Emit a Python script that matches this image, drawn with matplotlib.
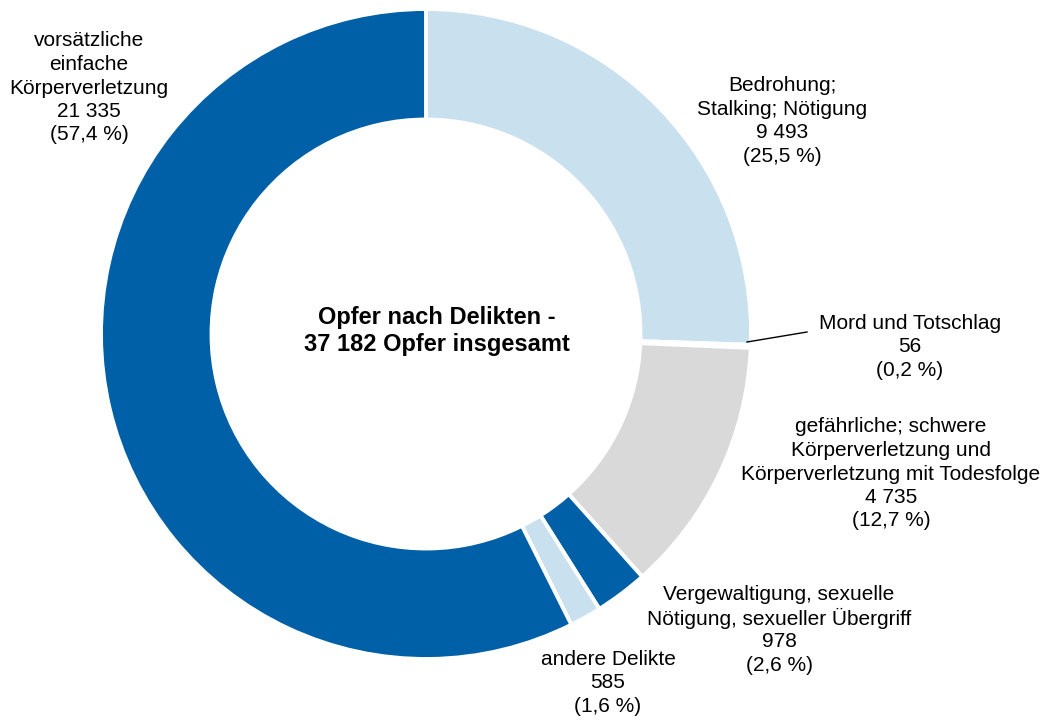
import matplotlib.pyplot as plt

plt.rcParams['font.family'] = ['Liberation Sans', 'DejaVu Sans']

# Daten (im Uhrzeigersinn ab 12 Uhr)
kategorien = ['Bedrohung;\nStalking; Nötigung',
              'Mord und Totschlag',
              'gefährliche; schwere\nKörperverletzung und\nKörperverletzung mit Todesfolge',
              'Vergewaltigung, sexuelle\nNötigung, sexueller Übergriff',
              'andere Delikte',
              'vorsätzliche\neinfache\nKörperverletzung']
werte = [9493, 56, 4735, 978, 585, 21335]
anteile = ['25,5', '0,2', '12,7', '2,6', '1,6', '57,4']
farben = ['#C9E0EF', '#0060A7', '#D9D9D9', '#0060A7', '#C9E0EF', '#0060A7']

W, H = 1051, 722
fig = plt.figure(figsize=(W / 100, H / 100), dpi=100)
ax = fig.add_axes([0, 0, 1, 1])

ax.pie(werte, colors=farben, startangle=90, counterclock=False,
       center=(426, H - 334), radius=325,
       wedgeprops=dict(width=325 * 0.34, edgecolor='white', linewidth=2.8))

ax.set_xlim(0, W)
ax.set_ylim(0, H)
ax.set_aspect('equal')
ax.axis('off')

def fmt(n):
    return f'{n:,}'.replace(',', ' ')

# Beschriftungen: Blockmitte in Pixeln (von oben), jede Zeile einzeln
pos = [(782, 121), (910, 347), (891, 474), (779, 630), (608, 683), (89, 88)]
schritt = 23.5
for name, w, a, (x, y) in zip(kategorien, werte, anteile, pos):
    zeilen = f'{name}\n{fmt(w)}\n({a} %)'.split('\n')
    y0 = y - schritt * (len(zeilen) - 1) / 2
    for i, z in enumerate(zeilen):
        ax.text(x, H - (y0 + i * schritt), z, ha='center', va='center',
                fontsize=15)

ax.plot([747, 807], [H - 342, H - 332], color='black', lw=1)

ax.text(437, H - 331, 'Opfer nach Delikten -\n37 182 Opfer insgesamt', ha='center',
        va='center', fontsize=17, fontweight='bold', linespacing=1.2)

fig.savefig('out.png', dpi=100)
